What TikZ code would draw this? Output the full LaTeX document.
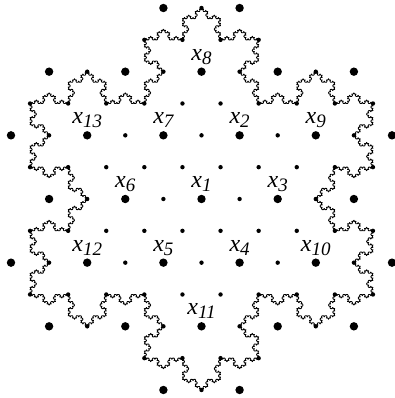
\documentclass[tikz,border=0pt]{standalone}
\usepackage{fontspec}
\setmainfont{Liberation Serif}
\usetikzlibrary{lindenmayersystems}
\pgfdeclarelindenmayersystem{wiggleedge}{
  \symbol{G}{\pgflsystemdrawforward}
  \rule{F -> +G--G++++G--G--G--G++++G--G+}
  \rule{G -> -F++F----F++F++F++F----F++F-}
}
\newcommand\xlab[1]{\fontsize{24}{24}\selectfont\itshape x\raisebox{-4pt}{\fontsize{19}{19}\selectfont #1}}
\begin{document}
\begin{tikzpicture}[x=19.05pt,y=31.83pt,
  bigdot/.style={circle,fill,inner sep=0pt,minimum size=8.4pt},
  smalldot/.style={circle,fill,inner sep=0pt,minimum size=4.4pt},
  lab/.style={anchor=base,inner sep=0pt}]
\useasboundingbox (-201.5pt,-199pt) rectangle (193.5pt,199pt);
% lattice dots
\foreach \n/\M in {-6/2,-5/3,-4/8,-3/9,-2/10,-1/9,0/8,1/9,2/10,3/9,4/8,5/3,6/2}{
  \pgfmathtruncatemacro\lo{-\M}
  \pgfmathtruncatemacro\lotwo{-\M+2}
  \foreach \m in {\lo,\lotwo,...,\M}{
    \pgfmathtruncatemacro\isbig{(mod(abs(\n),2)==0)&&(mod(abs(\m-\n),4)==0)}
    \ifnum\isbig=1
      \node[bigdot] (d\m/\n) at (\m,\n) {};
    \else
      \node[smalldot] (d\m/\n) at (\m,\n) {};
    \fi
  }
}
% boundary curve
\coordinate (top) at (0,6);
\begin{scope}[shift={(top)},yscale=0.9647]
\pgfkeys{/pgf/lindenmayer system/.cd, step=1.41111pt, left angle=30, right angle=30}
\pgfsetlinewidth{0.85pt}
\pgfsetroundjoin
\pgfpathmoveto{\pgfpointorigin}
\pgflindenmayersystem{wiggleedge}{--F++F----F++F++F++F----F++F----F++F----F++F++F++F----F++F----F++F----F++F++F++F----F++F----F++F----F++F++F++F----F++F----F++F----F++F++F++F----F++F----F++F----F++F++F++F----F++F----}{2}
\pgfusepath{stroke}
\end{scope}
% labels
\node[lab] (x1)  at ([yshift=11.5pt]d0/0)   {\xlab{1}};
\node[lab] (x2)  at ([yshift=11.5pt]d2/2)   {\xlab{2}};
\node[lab] (x3)  at ([yshift=11.5pt]d4/0)   {\xlab{3}};
\node[lab] (x4)  at ([yshift=11.5pt]d2/-2)  {\xlab{4}};
\node[lab] (x5)  at ([yshift=11.5pt]d-2/-2) {\xlab{5}};
\node[lab] (x6)  at ([yshift=11.5pt]d-4/0)  {\xlab{6}};
\node[lab] (x7)  at ([yshift=11.5pt]d-2/2)  {\xlab{7}};
\node[lab] (x8)  at ([yshift=11.5pt]d0/4)   {\xlab{8}};
\node[lab] (x9)  at ([yshift=11.5pt]d6/2)   {\xlab{9}};
\node[lab] (x10) at ([yshift=11.5pt]d6/-2)  {\xlab{10}};
\node[lab] (x11) at ([yshift=11.5pt]d0/-4)  {\xlab{11}};
\node[lab] (x12) at ([yshift=11.5pt]d-6/-2) {\xlab{12}};
\node[lab] (x13) at ([yshift=11.5pt]d-6/2)  {\xlab{13}};
\end{tikzpicture}
\end{document}
